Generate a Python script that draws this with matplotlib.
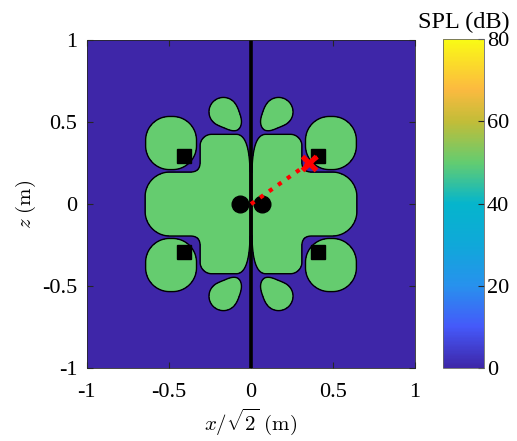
import numpy as np
import matplotlib.pyplot as plt
from matplotlib.colors import LinearSegmentedColormap, Normalize
from matplotlib.cm import ScalarMappable

plt.rcParams['font.family'] = ['Liberation Serif', 'DejaVu Serif']
plt.rcParams['mathtext.fontset'] = 'cm'
plt.rcParams['axes.unicode_minus'] = False

# parula-like colour map (anchor positions and colours)
parula_pos = [0.0, 0.125, 0.25, 0.375, 0.5, 0.625, 0.75, 0.85, 1.0]
parula_rgb = [(0.2422, 0.1504, 0.6603), (0.2700, 0.3500, 0.9800),
              (0.1540, 0.5700, 0.9300), (0.0600, 0.6600, 0.8500),
              (0.0200, 0.7100, 0.8000), (0.3900, 0.8000, 0.4400),
              (0.7600, 0.7400, 0.2200), (0.9900, 0.7300, 0.2500),
              (0.9769, 0.9839, 0.0805)]

# SPL (dB)
spl_min, spl_max = 0, 80
spl_zone = 50          # level inside the bright zones
spl_ticks = [0, 20, 40, 60, 80]

# bright zones, first quadrant (mirrored in x and z)
# rounded boxes: centre x, centre z, half width, half height, corner radius
box_cx = [0.0, 0.0, 0.487]
box_cz = [0.0, 0.0, 0.372]
box_hx = [0.31, 0.645, 0.155]
box_hz = [0.425, 0.195, 0.162]
box_r = [0.07, 0.15, 0.145]
# round lobes: centre x, centre z, radius
lobe_cx = [0.168, 0.10]
lobe_cz = [0.562, 0.50]
lobe_r = [0.088, 0.052]

# sources, loudspeakers, listener
src_x = [-0.07, 0.07]
src_z = [0.0, 0.0]
spk_x = [-0.41, 0.41, -0.41, 0.41]
spk_z = [0.29, 0.29, -0.29, -0.29]
lis_x, lis_z = 0.355, 0.248
ray_x = [0.0, 0.41]
ray_z = [0.0, 0.29]

ticks = [-1, -0.5, 0, 0.5, 1]
tick_labels = ['-1', '-0.5', '0', '0.5', '1']


def sd_box(x, z, cx, cz, hx, hz, r):
    qx = np.abs(x - cx) - hx + r
    qz = np.abs(z - cz) - hz + r
    return (np.hypot(np.maximum(qx, 0), np.maximum(qz, 0))
            + np.minimum(np.maximum(qx, qz), 0) - r)


def smin(a, b, k):
    h = np.clip(0.5 + 0.5 * (b - a) / k, 0, 1)
    return b * (1 - h) + a * h - k * h * (1 - h)


cmap = LinearSegmentedColormap.from_list('parula', list(zip(parula_pos, parula_rgb)))
norm = Normalize(spl_min, spl_max)

g = np.linspace(-1, 1, 901)
X, Z = np.meshgrid(g, g)
ax_, az_ = np.abs(X), np.abs(Z)
b = [sd_box(ax_, az_, box_cx[i], box_cz[i], box_hx[i], box_hz[i], box_r[i])
     for i in range(3)]
c = [np.hypot(ax_ - lobe_cx[i], az_ - lobe_cz[i]) - lobe_r[i] for i in range(2)]
d = smin(b[0], b[1], 0.06)
d = smin(d, b[2], 0.012)
d = np.minimum(d, smin(c[0], c[1], 0.06))
d = -smin(-d, -3 * (0.006 - ax_), 0.25)

fig = plt.figure(figsize=(5.17, 4.41), dpi=100)
ax = fig.add_axes([0.168, 0.1655, 0.635, 0.7437])
ax.contourf(X, Z, d, levels=[-5, 0, 5],
            colors=[cmap(norm(spl_zone)), cmap(norm(spl_min))])
ax.contour(X, Z, d, levels=[0], colors='k', linewidths=1.0)
ax.axvline(0, color='k', lw=2.6)

ax.plot(src_x, src_z, 'o', color='k', ms=12)
ax.plot(spk_x, spk_z, 's', color='k', ms=9.5)
ax.plot(ray_x, ray_z, ':', color='r', lw=3)
ax.plot(lis_x, lis_z, 'x', color='r', ms=10, mew=3.8)

ax.set_xlim(-1, 1)
ax.set_ylim(-1, 1)
ax.set_xticks(ticks)
ax.set_xticklabels(tick_labels)
ax.set_yticks(ticks)
ax.set_yticklabels(tick_labels)
ax.tick_params(direction='in', top=True, right=True, length=4,
               labelsize=16, colors='0.15', labelcolor='k')
ax.tick_params(axis='x', pad=11)
ax.tick_params(axis='y', pad=7)
for s in ax.spines.values():
    s.set_color('0.15')
    s.set_linewidth(0.6)
ax.set_xlabel(r'$x/\sqrt{2}\ \mathrm{(m)}$', fontsize=15, labelpad=3)
ax.set_ylabel(r'$z\ \mathrm{(m)}$', fontsize=15, labelpad=3)

cax = fig.add_axes([0.857, 0.1655, 0.079, 0.746])
cb = fig.colorbar(ScalarMappable(norm=norm, cmap=cmap), cax=cax, ticks=spl_ticks)
cb.ax.tick_params(direction='in', length=4, labelsize=16, colors='0.15',
                  labelcolor='k', pad=2)
cb.outline.set_edgecolor('0.4')
cb.outline.set_linewidth(0.6)
fig.text(0.8975, 0.9365, 'SPL (dB)', fontsize=17.5, ha='center', va='baseline')

fig.savefig('out.png', dpi=100)
